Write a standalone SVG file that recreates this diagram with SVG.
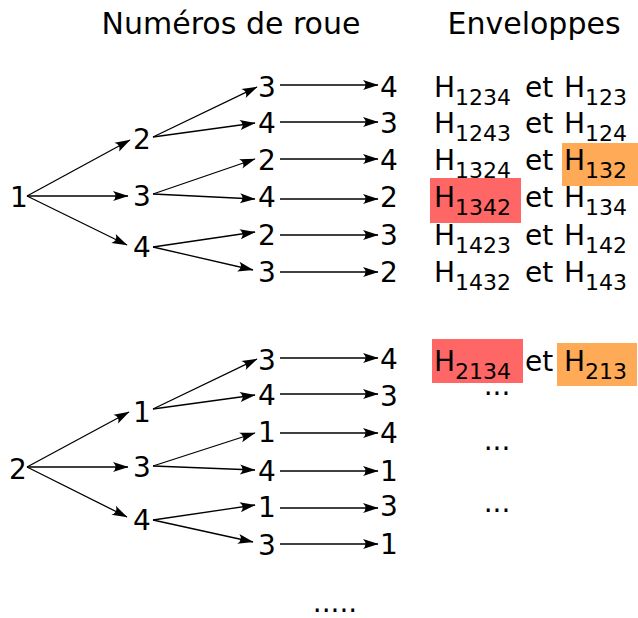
<svg xmlns="http://www.w3.org/2000/svg" width="638" height="618" viewBox="0 0 638 618">
<style>
text{font-family:"DejaVu Sans","Liberation Sans",sans-serif;fill:#000}
.t{font-size:30px}
.n{font-size:28px;text-anchor:middle}
.h{font-size:28px}
.s{font-size:22px}
.c line{stroke:#000;stroke-width:1.3;marker-end:url(#ah)}
</style>
<defs>
<marker id="ah" markerUnits="userSpaceOnUse" markerWidth="18" markerHeight="12" viewBox="-16 -6 18 12" refX="0" refY="0" orient="auto">
<path d="M0.5,0 L-15,-5 Q-10,0 -15,5 Z" fill="#000"/>
</marker>
</defs>
<rect width="638" height="618" fill="#fff"/>
<text class="t" x="231" y="34" text-anchor="middle">Numéros de roue</text>
<text class="t" x="534" y="34" text-anchor="middle">Enveloppes</text>

<g id="connectors" class="c">
<line x1="27" y1="196" x2="130" y2="140"/>
<line x1="27" y1="196" x2="128" y2="196"/>
<line x1="27" y1="196" x2="127" y2="245"/>
<line x1="153" y1="137" x2="257" y2="87"/>
<line x1="153" y1="137" x2="255" y2="123"/>
<line x1="153" y1="194" x2="255" y2="159"/>
<line x1="153" y1="194" x2="255" y2="199"/>
<line x1="153" y1="247" x2="255" y2="232"/>
<line x1="153" y1="247" x2="253" y2="270"/>
<line x1="280" y1="85" x2="378" y2="85"/>
<line x1="280" y1="122" x2="378" y2="122"/>
<line x1="280" y1="159" x2="378" y2="159"/>
<line x1="280" y1="199" x2="378" y2="199"/>
<line x1="280" y1="235" x2="378" y2="235"/>
<line x1="280" y1="272" x2="378" y2="272"/>
<line x1="27" y1="467" x2="129" y2="412"/>
<line x1="27" y1="467" x2="128" y2="467"/>
<line x1="27" y1="467" x2="127" y2="517"/>
<line x1="153" y1="409" x2="257" y2="359"/>
<line x1="153" y1="409" x2="255" y2="395"/>
<line x1="153" y1="466" x2="255" y2="433"/>
<line x1="153" y1="466" x2="255" y2="470"/>
<line x1="153" y1="520" x2="255" y2="505"/>
<line x1="153" y1="520" x2="253" y2="542"/>
<line x1="280" y1="358" x2="378" y2="358"/>
<line x1="280" y1="394" x2="378" y2="394"/>
<line x1="280" y1="433" x2="378" y2="433"/>
<line x1="280" y1="471" x2="378" y2="471"/>
<line x1="280" y1="508" x2="378" y2="508"/>
<line x1="280" y1="544" x2="378" y2="544"/>
</g>

<g id="a-1"><text class="n" x="19" y="207">1</text></g>
<g id="a-12"><text class="n" x="142" y="149">2</text></g>
<g id="a-13"><text class="n" x="142" y="206">3</text></g>
<g id="a-14"><text class="n" x="142" y="257">4</text></g>
<g id="a-123"><text class="n" x="267" y="97">3</text></g>
<g id="a-124"><text class="n" x="267" y="133">4</text></g>
<g id="a-132"><text class="n" x="267" y="170">2</text></g>
<g id="a-134"><text class="n" x="267" y="207">4</text></g>
<g id="a-142"><text class="n" x="267" y="245">2</text></g>
<g id="a-143"><text class="n" x="267" y="282">3</text></g>
<g id="a-1234"><text class="n" x="389" y="97">4</text></g>
<g id="a-1243"><text class="n" x="389" y="133">3</text></g>
<g id="a-1324"><text class="n" x="389" y="170">4</text></g>
<g id="a-1342"><text class="n" x="389" y="207">2</text></g>
<g id="a-1423"><text class="n" x="389" y="245">3</text></g>
<g id="a-1432"><text class="n" x="389" y="282">2</text></g>

<g id="b-2"><text class="n" x="18" y="479">2</text></g>
<g id="b-21"><text class="n" x="142" y="422">1</text></g>
<g id="b-23"><text class="n" x="142" y="477">3</text></g>
<g id="b-24"><text class="n" x="142" y="530">4</text></g>
<g id="b-213"><text class="n" x="267" y="370">3</text></g>
<g id="b-214"><text class="n" x="267" y="405">4</text></g>
<g id="b-231"><text class="n" x="267" y="442">1</text></g>
<g id="b-234"><text class="n" x="267" y="481">4</text></g>
<g id="b-241"><text class="n" x="267" y="517">1</text></g>
<g id="b-243"><text class="n" x="267" y="555">3</text></g>
<g id="b-2134"><text class="n" x="389" y="369">4</text></g>
<g id="b-2143"><text class="n" x="389" y="406">3</text></g>
<g id="b-2314"><text class="n" x="389" y="443">4</text></g>
<g id="b-2341"><text class="n" x="389" y="481">1</text></g>
<g id="b-2413"><text class="n" x="389" y="516">3</text></g>
<g id="b-2431"><text class="n" x="389" y="554">1</text></g>
<g id="more"><text class="n" x="335" y="612">.....</text></g>

<g id="highlights">
<rect x="430" y="178" width="91" height="45" fill="#ff6666"/>
<rect x="562" y="143" width="76" height="43" fill="#ffaa56"/>
<rect x="432" y="339" width="91" height="44" fill="#ff6666"/>
<rect x="557" y="343" width="80" height="43" fill="#ffaa56"/>
</g>

<g id="env">
<text class="h" y="97"><tspan x="434">H</tspan><tspan class="s" dy="8">1234</tspan><tspan x="525" dy="-8">et</tspan><tspan x="564">H</tspan><tspan class="s" dy="8">123</tspan></text>
<text class="h" y="133"><tspan x="434">H</tspan><tspan class="s" dy="8">1243</tspan><tspan x="525" dy="-8">et</tspan><tspan x="564">H</tspan><tspan class="s" dy="8">124</tspan></text>
<text class="h" y="170"><tspan x="434">H</tspan><tspan class="s" dy="8">1324</tspan><tspan x="525" dy="-8">et</tspan><tspan x="564">H</tspan><tspan class="s" dy="8">132</tspan></text>
<text class="h" y="207"><tspan x="434">H</tspan><tspan class="s" dy="8">1342</tspan><tspan x="525" dy="-8">et</tspan><tspan x="564">H</tspan><tspan class="s" dy="8">134</tspan></text>
<text class="h" y="245"><tspan x="434">H</tspan><tspan class="s" dy="8">1423</tspan><tspan x="525" dy="-8">et</tspan><tspan x="564">H</tspan><tspan class="s" dy="8">142</tspan></text>
<text class="h" y="282"><tspan x="434">H</tspan><tspan class="s" dy="8">1432</tspan><tspan x="525" dy="-8">et</tspan><tspan x="564">H</tspan><tspan class="s" dy="8">143</tspan></text>
<text class="h" y="371"><tspan x="434">H</tspan><tspan class="s" dy="8">2134</tspan><tspan x="525" dy="-8">et</tspan><tspan x="564">H</tspan><tspan class="s" dy="8">213</tspan></text>
<text class="h" x="497" y="395" text-anchor="middle">...</text>
<text class="h" x="497" y="450" text-anchor="middle">...</text>
<text class="h" x="497" y="512" text-anchor="middle">...</text>
</g>
</svg>
